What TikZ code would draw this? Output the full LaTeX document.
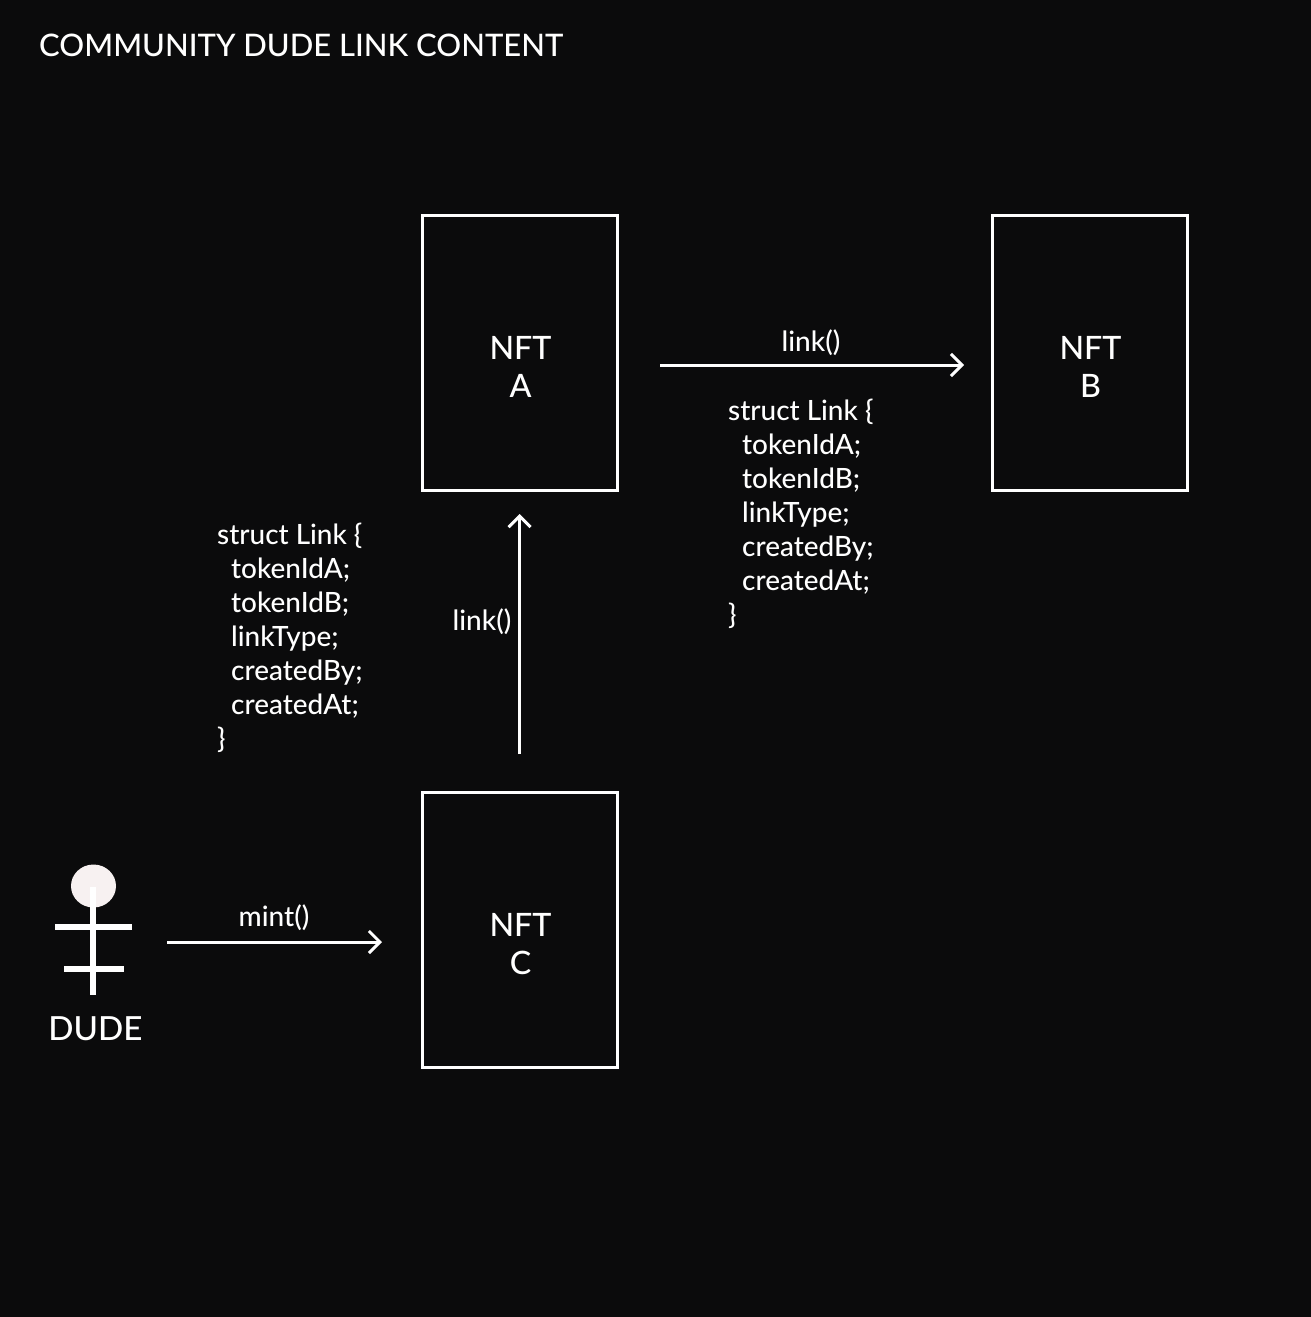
\documentclass[tikz,border=0pt]{standalone}
\usepackage{fontspec}
\setmainfont{Lato Medium}
\usetikzlibrary{arrows.meta,shapes.geometric}
\definecolor{pagebg}{HTML}{0B0B0C}
\definecolor{headfill}{HTML}{F7F1F1}
\tikzset{
  nftbox/.style={draw=white, line width=3pt, minimum width=195pt, minimum height=275pt},
  nfttext/.style={align=center, font=\fontsize{32.2}{38}\selectfont, text=white},
  linkarrow/.style={draw=white, line width=3pt, -{Straight Barb[length=11pt,width=22pt,line width=3pt]}},
  calllabel/.style={text=white, font=\fontsize{28}{34}\selectfont},
  structtext/.style={text=white, align=left, inner sep=0pt, anchor=north west, font=\fontsize{27.9}{34}\selectfont},
  actorline/.style={draw=white, line width=6pt}
}
\begin{document}
\begin{tikzpicture}[x=1pt, y=-1pt]
\useasboundingbox (0,0) rectangle (1311,1317);
\fill[pagebg] (0,0) rectangle (1311,1317);

\node[anchor=west, inner sep=0pt, text=white, font=\fontsize{31}{38}\selectfont] (title) at (39,45) {COMMUNITY DUDE LINK CONTENT};

\node[nftbox] (nft_a) at (520,353) {};
\node[nftbox] (nft_b) at (1090,353) {};
\node[nftbox] (nft_c) at (520,930) {};
\node[nfttext] (nft_a_text) at (520.5,367) {NFT\\A};
\node[nfttext] (nft_b_text) at (1090.5,367) {NFT\\B};
\node[nfttext] (nft_c_text) at (520.5,944) {NFT\\C};

\coordinate (ab_start) at (660,365);
\coordinate (ab_end) at (964,365);
\coordinate (ca_start) at (519.6,754);
\coordinate (ca_end) at (519.6,514);
\coordinate (mint_start) at (167,942);
\coordinate (mint_end) at (382,942);

\draw[linkarrow] (ab_start) -- (ab_end);
\draw[linkarrow] (ca_start) -- (ca_end);
\draw[linkarrow] (mint_start) -- (mint_end);

\node[calllabel] (ab_label) at (811,343) {link()};
\node[calllabel] (ca_label) at (482,622) {link()};
\node[calllabel] (mint_label) at (274,918) {mint()};

\node[structtext] (struct_ab) at (728,399) {struct Link \{\\\hspace{14pt}tokenIdA;\\\hspace{14pt}tokenIdB;\\\hspace{14pt}linkType;\\\hspace{14pt}createdBy;\\\hspace{14pt}createdAt;\\\}};
\node[structtext] (struct_ca) at (217,523) {struct Link \{\\\hspace{14pt}tokenIdA;\\\hspace{14pt}tokenIdB;\\\hspace{14pt}linkType;\\\hspace{14pt}createdBy;\\\hspace{14pt}createdAt;\\\}};

% dude
\node[ellipse, fill=headfill, minimum width=45pt, minimum height=43pt, inner sep=0pt] (head) at (93.5,886) {};
\coordinate (spine_top) at (93,887);
\coordinate (spine_end) at (93,995);
\coordinate (arm_l) at (55,927);
\coordinate (arm_r) at (132,927);
\coordinate (leg_l) at (64,969);
\coordinate (leg_r) at (124,969);
\draw[actorline] (spine_top) -- (spine_end);
\draw[actorline] (arm_l) -- (arm_r);
\draw[actorline] (leg_l) -- (leg_r);
\node[text=white, font=\fontsize{33.2}{38}\selectfont] (dude) at (95.5,1029) {DUDE};
\end{tikzpicture}
\end{document}
